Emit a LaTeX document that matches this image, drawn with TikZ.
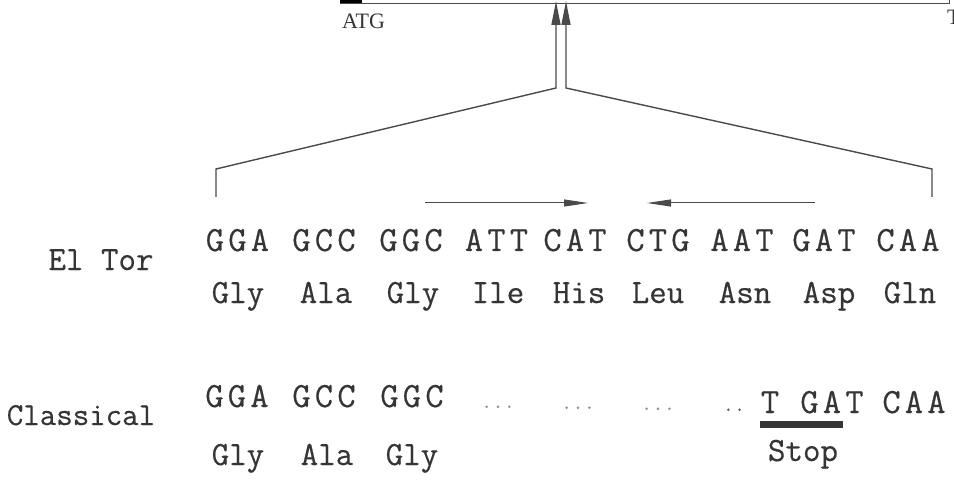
\documentclass[tikz,border=0pt]{standalone}
\usepackage{fontspec}
\newfontfamily\seqfont{Latin Modern Mono}[FakeBold=0.45]
\newfontfamily\mapfont{Liberation Serif}
\usetikzlibrary{arrows.meta}
\definecolor{ink}{HTML}{353535}
\definecolor{rule}{HTML}{4A4A4A}
\definecolor{faint}{HTML}{8E8E8E}
% codon: three letters on a fixed pitch
\newcommand\tri[3]{\makebox[22.5pt]{#1}\makebox[22.5pt]{#2}\makebox[22.5pt]{#3}}
\begin{document}
\begin{tikzpicture}[x=1pt,y=-1pt,
  txt/.style={inner sep=0pt, anchor=base, text=ink, font=\seqfont\fontsize{34}{40}\selectfont},
  codon/.style={txt, font=\seqfont\fontsize{35.5}{40}\selectfont},
  small/.style={txt, font=\seqfont\fontsize{32}{38}\selectfont},
  dotrun/.style={txt, text=faint, font=\seqfont\fontsize{22}{26}\selectfont},
  map/.style={inner sep=0pt, text=ink, font=\mapfont\fontsize{22}{26}\selectfont},
  link/.style={draw=rule, line width=1.4pt},
  thin/.style={draw=rule, line width=1pt},
  uphead/.style={-{Triangle[length=24pt,width=9pt]}},
  sidehead/.style={-{Triangle[length=24pt,width=7pt]}},
]
\useasboundingbox (0,0) rectangle (954,484);

% gene map bar with the start block
\draw[rule, line width=0.8pt] (340,-4) rectangle (949,3);
\fill[black] (340,-4) rectangle (362,3);
\node[map, anchor=base west] (atg) at (342,29) {ATG};
\node[map, anchor=base west] (tend) at (947,25) {T};

% bracket from the mapped site down to the sequence
\coordinate (tl) at (556,1);
\coordinate (tr) at (566,1);
\coordinate (fl) at (556,88);
\coordinate (fr) at (566,88);
\coordinate (kl) at (216,169);
\coordinate (kr) at (932,169);
\coordinate (cl) at (216,197);
\coordinate (cr) at (932,197);
\draw[link, uphead] (cl) -- (kl) -- (fl) -- (tl);
\draw[link, uphead] (cr) -- (kr) -- (fr) -- (tr);

% inverted repeat arrows
\coordinate (ra) at (425,203);
\coordinate (rb) at (588,203);
\coordinate (la) at (815,203);
\coordinate (lb) at (647,203);
\draw[thin, sidehead] (ra) -- (rb);
\draw[thin, sidehead] (la) -- (lb);

% El Tor sequence
\node[txt] (eltor) at (101,270) {El Tor};
\foreach \x/\t [count=\i] in {237.5/GGA,324/GCC,411/GGC,496.5/ATT,575/CAT,658/CTG,742/AAT,824/GAT,908/CAA}
  \node[codon] (e\i) at (\x,251) {\expandafter\tri\t};
\foreach \x/\t [count=\i] in {238/Gly,326/Ala,413/Gly,498/Ile,579/His,658/Leu,745/Asn,829/Asp,910/Gln}
  \node[txt] (a\i) at (\x,303) {\t};

% Classical sequence
\node[small] (classical) at (81,425) {Classical};
\foreach \x/\t [count=\i] in {237/GGA,324/GCC,412/GGC}
  \node[codon] (c\i) at (\x,407) {\expandafter\tri\t};
\foreach \x/\t [count=\i] in {238/Gly,327/Ala,412/Gly}
  \node[txt] (b\i) at (\x,465) {\t};
\node[dotrun] (d1) at (498,408) {...};
\node[dotrun] (d2) at (578,409) {...};
\node[dotrun] (d3) at (658,410) {...};
\node[dotrun, text=ink!80] (d4) at (734,411) {..};
\node[codon] (ct) at (770,413) {T};
\node[codon] (c4) at (832,413) {\tri GAT};
\node[codon] (c5) at (914,413) {\tri CAA};
\node[fill=ink, minimum width=83pt, minimum height=7pt, inner sep=0pt] (stopbar) at (801.5,424) {};
\node[txt] (stop) at (803,461) {Stop};
\end{tikzpicture}
\end{document}
